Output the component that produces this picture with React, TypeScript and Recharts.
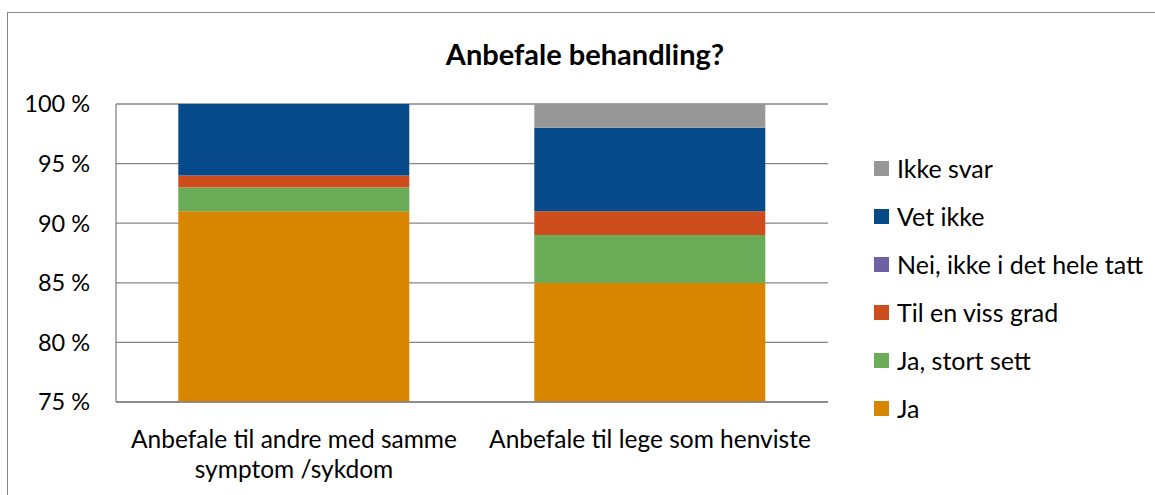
import { Bar, BarChart, CartesianGrid, XAxis, YAxis } from "recharts";

const categories = ["Anbefale til andre med samme symptom /sykdom", "Anbefale til lege som henviste"];
const ja = [91, 85];
const jaStortSett = [2, 4];
const tilEnVissGrad = [1, 2];
const nei = [0, 0];
const vetIkke = [6, 7];
const ikkeSvar = [0, 2];
const yTicks = [75, 80, 85, 90, 95, 100];

const series = [
  { key: "ja", name: "Ja", color: "#D88600", values: ja },
  { key: "jaStortSett", name: "Ja, stort sett", color: "#6AAC58", values: jaStortSett },
  { key: "tilEnVissGrad", name: "Til en viss grad", color: "#CD4E1C", values: tilEnVissGrad },
  { key: "nei", name: "Nei, ikke i det hele tatt", color: "#6F5FA3", values: nei },
  { key: "vetIkke", name: "Vet ikke", color: "#064A8A", values: vetIkke },
  { key: "ikkeSvar", name: "Ikke svar", color: "#979797", values: ikkeSvar },
];

const data = categories.map((cat, i) => {
  const row: Record<string, string | number> = { cat };
  series.forEach((s) => (row[s.key] = s.values[i]));
  return row;
});

const font = "Lato, 'Open Sans', sans-serif";
const catFontSize = 24.5;

// greedy word wrap measured with a canvas
function wrap(text: string, maxWidth: number): string[] {
  const ctx = document.createElement("canvas").getContext("2d")!;
  ctx.font = `${catFontSize}px Lato`;
  const lines: string[] = [];
  let cur = "";
  for (const w of text.split(" ")) {
    const next = cur ? cur + " " + w : w;
    if (cur && ctx.measureText(next).width > maxWidth) {
      lines.push(cur);
      cur = w;
    } else cur = next;
  }
  if (cur) lines.push(cur);
  return lines;
}

function CatTick(props: any) {
  const { x, y, payload } = props;
  const lines = wrap(payload.value, 345);
  return (
    <text x={x} y={y} textAnchor="middle" fontSize={catFontSize} fontFamily={font} fill="#000">
      {lines.map((l, i) => (
        <tspan key={i} x={x} y={y + 38 + i * 30}>
          {l}
        </tspan>
      ))}
    </text>
  );
}

export default function App() {
  return (
    <div style={{ position: "relative", width: 1155, height: 495, background: "#fff", overflow: "hidden", fontFamily: font }}>
      <style>{"body{margin:0}"}</style>
      <div
        style={{
          position: "absolute",
          left: 7,
          top: 12,
          width: 1300,
          height: 600,
          borderTop: "1.5px solid #878787",
          borderLeft: "1.5px solid #878787",
        }}
      />
      <div
        style={{
          position: "absolute",
          left: 0,
          width: 1170,
          top: 36,
          textAlign: "center",
          fontWeight: 700,
          fontSize: 29,
          color: "#000",
        }}
      >
        Anbefale behandling?
      </div>
      <div style={{ position: "absolute", left: 0, top: 0 }}>
        <BarChart
          width={1155}
          height={495}
          data={data}
          margin={{ top: 104, right: 327, left: 0, bottom: 0 }}
          barCategoryGap="17.5%"
        >
          <CartesianGrid vertical={false} stroke="#868686" strokeWidth={1.3} />
          <XAxis
            dataKey="cat"
            height={93}
            tickLine={false}
            axisLine={{ stroke: "#868686", strokeWidth: 1.3 }}
            tick={<CatTick />}
            interval={0}
          />
          <YAxis
            width={116}
            domain={[75, 100]}
            ticks={yTicks}
            allowDataOverflow
            tickSize={0}
            tickMargin={26}
            axisLine={{ stroke: "#868686", strokeWidth: 1.3 }}
            tickLine={false}
            tickFormatter={(v: number) => `${v} %`}
            tick={{ fontSize: 23.5, fontFamily: font, fill: "#000" }}
          />
          {series.map((s) => (
            <Bar key={s.key} dataKey={s.key} name={s.name} stackId="a" fill={s.color} isAnimationActive={false} />
          ))}
        </BarChart>
      </div>
      <div style={{ position: "absolute", left: 874, top: 144 }}>
        {[...series].reverse().map((s) => (
          <div key={s.key} style={{ display: "flex", alignItems: "center", height: 48 }}>
            <div style={{ width: 15, height: 15, background: s.color, marginRight: 8 }} />
            <span style={{ fontSize: 25, color: "#000" }}>{s.name}</span>
          </div>
        ))}
      </div>
    </div>
  );
}
